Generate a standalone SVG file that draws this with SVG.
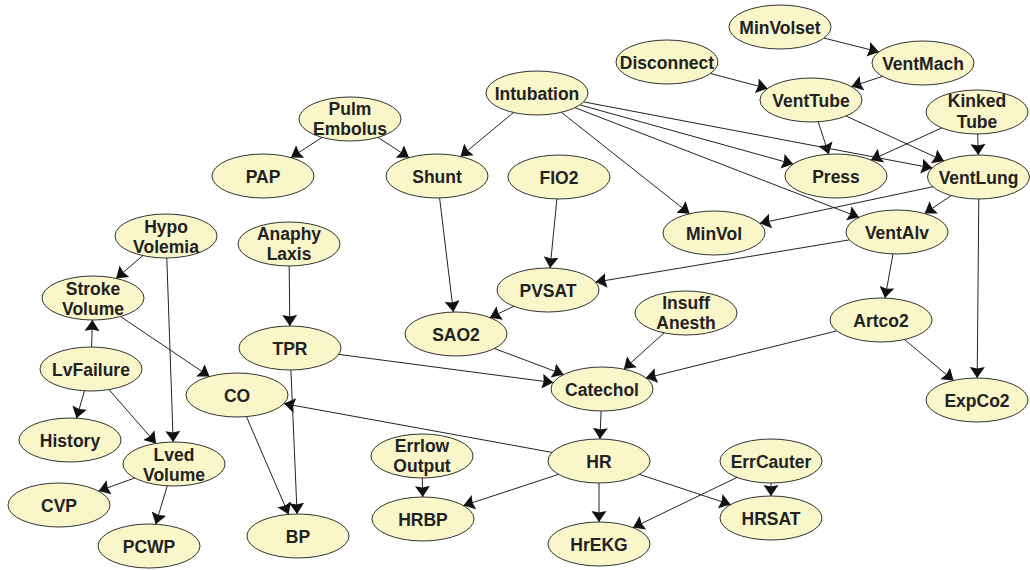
<svg xmlns="http://www.w3.org/2000/svg" width="1030" height="570" viewBox="0 0 1030 570">
<style>
.n ellipse{fill:#f9f6ca;stroke:#333;stroke-width:1}
.n text{font-family:"Liberation Sans",Arial,sans-serif;font-weight:bold;font-size:17.5px;fill:#222;text-anchor:middle}
#edges line{stroke:#222;stroke-width:1;marker-end:url(#ah)}
</style>
<defs>
<marker id="ah" markerUnits="userSpaceOnUse" markerWidth="13" markerHeight="16" refX="11" refY="8" orient="auto">
<path d="M0,0.5 L11,8 L0,15.5 L1.5,8 z" fill="#111"/>
</marker>
</defs>
<rect width="1030" height="570" fill="#fff"/>
<g id="nodes">
<g class="n" id="MinVolset"><ellipse cx="780" cy="27" rx="51" ry="22"/><text x="780" y="33.5">MinVolset</text></g>
<g class="n" id="VentMach"><ellipse cx="923" cy="63" rx="51" ry="22"/><text x="923" y="69.5">VentMach</text></g>
<g class="n" id="Disconnect"><ellipse cx="667" cy="62" rx="51" ry="22"/><text x="667" y="68.5">Disconnect</text></g>
<g class="n" id="VentTube"><ellipse cx="811" cy="100" rx="51" ry="22"/><text x="811" y="106.5">VentTube</text></g>
<g class="n" id="KinkedTube"><ellipse cx="977" cy="112" rx="51" ry="22"/><text x="977" y="107">Kinked</text><text x="977" y="128">Tube</text></g>
<g class="n" id="Intubation"><ellipse cx="537" cy="93" rx="51" ry="22"/><text x="537" y="99.5">Intubation</text></g>
<g class="n" id="PulmEmbolus"><ellipse cx="350" cy="119" rx="51" ry="22"/><text x="350" y="115">Pulm</text><text x="350" y="135">Embolus</text></g>
<g class="n" id="PAP"><ellipse cx="263" cy="176" rx="51" ry="22"/><text x="263" y="182.5">PAP</text></g>
<g class="n" id="Shunt"><ellipse cx="437" cy="176" rx="51" ry="22"/><text x="437" y="182.5">Shunt</text></g>
<g class="n" id="FIO2"><ellipse cx="559" cy="177" rx="51" ry="22"/><text x="559" y="183.5">FIO2</text></g>
<g class="n" id="Press"><ellipse cx="836" cy="176" rx="51" ry="22"/><text x="836" y="182.5">Press</text></g>
<g class="n" id="VentLung"><ellipse cx="978.5" cy="177" rx="51" ry="22"/><text x="978.5" y="183.5">VentLung</text></g>
<g class="n" id="MinVol"><ellipse cx="714" cy="233" rx="51" ry="22"/><text x="714" y="239.5">MinVol</text></g>
<g class="n" id="VentAlv"><ellipse cx="897" cy="232" rx="51" ry="22"/><text x="897" y="238.5">VentAlv</text></g>
<g class="n" id="HypoVolemia"><ellipse cx="166" cy="236" rx="51" ry="22"/><text x="166" y="233">Hypo</text><text x="166" y="253">Volemia</text></g>
<g class="n" id="AnaphyLaxis"><ellipse cx="289" cy="244" rx="51" ry="22"/><text x="289" y="240">Anaphy</text><text x="289" y="260">Laxis</text></g>
<g class="n" id="PVSAT"><ellipse cx="548" cy="290" rx="51" ry="22"/><text x="548" y="296.5">PVSAT</text></g>
<g class="n" id="StrokeVolume"><ellipse cx="93" cy="298" rx="51" ry="22"/><text x="93" y="295">Stroke</text><text x="93" y="315">Volume</text></g>
<g class="n" id="SAO2"><ellipse cx="456" cy="334" rx="51" ry="22"/><text x="456" y="340.5">SAO2</text></g>
<g class="n" id="InsuffAnesth"><ellipse cx="686" cy="313" rx="51" ry="22"/><text x="686" y="309">Insuff</text><text x="686" y="329">Anesth</text></g>
<g class="n" id="Artco2"><ellipse cx="881" cy="320" rx="51" ry="22"/><text x="881" y="326.5">Artco2</text></g>
<g class="n" id="TPR"><ellipse cx="290" cy="348" rx="51" ry="22"/><text x="290" y="354.5">TPR</text></g>
<g class="n" id="LvFailure"><ellipse cx="91" cy="369" rx="51" ry="22"/><text x="91" y="375.5">LvFailure</text></g>
<g class="n" id="CO"><ellipse cx="237" cy="395" rx="51" ry="22"/><text x="237" y="401.5">CO</text></g>
<g class="n" id="Catechol"><ellipse cx="602" cy="389" rx="51" ry="22"/><text x="602" y="395.5">Catechol</text></g>
<g class="n" id="ExpCo2"><ellipse cx="977" cy="400" rx="51" ry="22"/><text x="977" y="406.5">ExpCo2</text></g>
<g class="n" id="History"><ellipse cx="70" cy="440" rx="51" ry="22"/><text x="70" y="446.5">History</text></g>
<g class="n" id="LvedVolume"><ellipse cx="174" cy="464" rx="51" ry="22"/><text x="174" y="461">Lved</text><text x="174" y="481">Volume</text></g>
<g class="n" id="ErrlowOutput"><ellipse cx="422" cy="456" rx="51" ry="22"/><text x="422" y="452">Errlow</text><text x="422" y="472">Output</text></g>
<g class="n" id="HR"><ellipse cx="599" cy="461" rx="51" ry="22"/><text x="599" y="467.5">HR</text></g>
<g class="n" id="ErrCauter"><ellipse cx="771" cy="461" rx="51" ry="22"/><text x="771" y="467.5">ErrCauter</text></g>
<g class="n" id="CVP"><ellipse cx="59" cy="505" rx="51" ry="22"/><text x="59" y="511.5">CVP</text></g>
<g class="n" id="HRBP"><ellipse cx="423" cy="519" rx="51" ry="22"/><text x="423" y="525.5">HRBP</text></g>
<g class="n" id="HRSAT"><ellipse cx="771" cy="518" rx="51" ry="22"/><text x="771" y="524.5">HRSAT</text></g>
<g class="n" id="HrEKG"><ellipse cx="599" cy="544" rx="51" ry="22"/><text x="599" y="550.5">HrEKG</text></g>
<g class="n" id="BP"><ellipse cx="298" cy="536" rx="51" ry="22"/><text x="298" y="542.5">BP</text></g>
<g class="n" id="PCWP"><ellipse cx="149" cy="546" rx="51" ry="22"/><text x="149" y="552.5">PCWP</text></g>
</g>
<g id="edges">
<line x1="824" y1="38.1" x2="879" y2="51.9"/>
<line x1="882.5" y1="76.4" x2="851.5" y2="86.6"/>
<line x1="710.5" y1="73.5" x2="767.5" y2="88.5"/>
<line x1="818.2" y1="121.8" x2="828.8" y2="154.2"/>
<line x1="846" y1="116" x2="944" y2="161"/>
<line x1="941.9" y1="127.9" x2="870.9" y2="160.1"/>
<line x1="977.7" y1="134" x2="978.3" y2="155"/>
<line x1="513.5" y1="112.5" x2="460.5" y2="156.5"/>
<line x1="579.9" y1="104.9" x2="793.1" y2="164.1"/>
<line x1="583.7" y1="101.9" x2="932.3" y2="168.1"/>
<line x1="575" y1="107.7" x2="859" y2="217.3"/>
<line x1="561.4" y1="112.3" x2="689.6" y2="213.7"/>
<line x1="322" y1="137.4" x2="291" y2="157.6"/>
<line x1="378" y1="137.4" x2="409" y2="157.6"/>
<line x1="933.2" y1="186.7" x2="759.8" y2="223.3"/>
<line x1="951.4" y1="195.5" x2="924.6" y2="213.5"/>
<line x1="978.8" y1="199" x2="977.2" y2="378"/>
<line x1="849.4" y1="239.9" x2="595.6" y2="282.1"/>
<line x1="893" y1="253.9" x2="885" y2="298.1"/>
<line x1="556.9" y1="199" x2="550.1" y2="268"/>
<line x1="439.6" y1="198" x2="453.4" y2="312"/>
<line x1="513.8" y1="306.3" x2="489.8" y2="317.7"/>
<line x1="494.4" y1="348.5" x2="563.6" y2="374.5"/>
<line x1="664.1" y1="332.9" x2="623.9" y2="369.1"/>
<line x1="836.8" y1="330.9" x2="645.8" y2="378.1"/>
<line x1="904.4" y1="339.5" x2="953.6" y2="380.5"/>
<line x1="338.8" y1="354.4" x2="553.2" y2="382.6"/>
<line x1="601.1" y1="411" x2="599.9" y2="439"/>
<line x1="552" y1="452.4" x2="284" y2="403.6"/>
<line x1="558.5" y1="474.4" x2="463.5" y2="505.6"/>
<line x1="599" y1="483" x2="599" y2="522"/>
<line x1="639.4" y1="474.4" x2="730.6" y2="504.6"/>
<line x1="737" y1="477.4" x2="633" y2="527.6"/>
<line x1="771" y1="483" x2="771" y2="496"/>
<line x1="422.3" y1="478" x2="422.7" y2="497"/>
<line x1="142.9" y1="255.6" x2="116.1" y2="278.4"/>
<line x1="166.8" y1="258" x2="173.2" y2="442"/>
<line x1="91.6" y1="347" x2="92.4" y2="320"/>
<line x1="84.5" y1="390.8" x2="76.5" y2="418.2"/>
<line x1="109" y1="389.6" x2="156" y2="443.4"/>
<line x1="120.5" y1="316.5" x2="209.5" y2="376.5"/>
<line x1="289.2" y1="266" x2="289.8" y2="326"/>
<line x1="290.9" y1="370" x2="297.1" y2="514"/>
<line x1="246.4" y1="416.6" x2="288.6" y2="514.4"/>
<line x1="134.7" y1="478" x2="98.7" y2="491"/>
<line x1="167.3" y1="485.8" x2="155.7" y2="524.2"/>
</g>
</svg>
